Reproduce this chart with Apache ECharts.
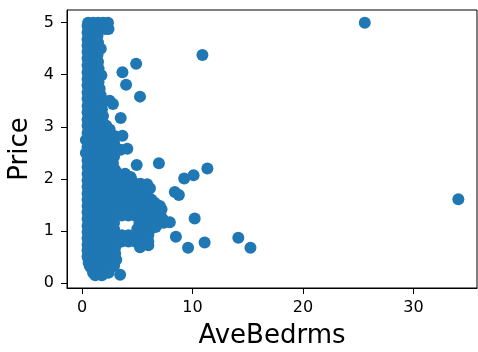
<!DOCTYPE html>
<html><head><meta charset="utf-8">
<script src="https://cdn.jsdelivr.net/npm/echarts@6/dist/echarts.min.js"></script>
<style>html,body{margin:0;padding:0;background:#fff}#c{width:478px;height:352px}</style>
</head><body><div id="c"></div>
<script>
// tick labels
const xTicks = [0, 10, 20, 30];
const yTicks = [0, 1, 2, 3, 4, 5];
const xName = 'AveBedrms';
const yName = 'Price';

// dense cloud, read row by row: [Price, [AveBedrms values]]
const denseRows = [
  [5.0,  [0.55, 1.0, 1.45, 1.9, 2.35]],
  [4.94, [0.5, 1.3, 2.0]],
  [4.88, [0.6, 1.1, 1.6, 2.1, 2.4]],
  [4.81, [0.5, 1.2]],
  [4.75, [0.6, 1.0, 1.4]],
  [4.68, [0.5, 1.2]],
  [4.62, [0.6, 1.0, 1.45]],
  [4.56, [0.5, 1.3]],
  [4.5,  [0.6, 1.1, 1.7]],
  [4.44, [0.5, 1.2]],
  [4.38, [0.6, 1.0, 1.4]],
  [4.31, [0.5, 1.2]],
  [4.25, [0.6, 1.0, 1.45]],
  [4.18, [0.5, 1.2]],
  [4.12, [0.6, 1.0, 1.5]],
  [4.05, [0.5, 1.3]],
  [3.99, [0.6, 1.1, 1.75]],
  [3.92, [0.5, 1.2]],
  [3.86, [0.6, 1.0, 1.5]],
  [3.8,  [0.5, 1.2]],
  [3.73, [0.6, 1.0, 1.6]],
  [3.66, [0.5, 1.3]],
  [3.6,  [0.6, 1.1, 1.7]],
  [3.54, [0.5, 1.4]],
  [3.5,  [2.5]],
  [3.47, [0.6, 1.1, 1.8]],
  [3.44, [2.8]],
  [3.4,  [0.5, 1.4]],
  [3.34, [0.6, 1.1, 1.8]],
  [3.28, [0.5, 1.4]],
  [3.21, [0.6, 1.1, 1.9]],
  [3.14, [0.5, 1.5]],
  [3.08, [0.6, 1.1, 1.9]],
  [3.02, [0.5, 1.5, 2.2]],
  [2.95, [0.6, 1.1, 1.9, 2.5]],
  [2.88, [0.5, 1.4, 2.1]],
  [2.82, [0.6, 1.1, 1.7, 2.4, 3.0]],
  [2.75, [0.35, 1.4, 2.0, 2.7]],
  [2.69, [0.6, 1.1, 1.7, 2.3, 2.9]],
  [2.62, [0.5, 1.4, 2.0, 2.7]],
  [2.56, [0.6, 1.2, 1.8, 2.4, 3.0, 3.5]],
  [2.5,  [0.35, 1.5, 2.1, 2.7]],
  [2.43, [0.6, 1.2, 1.8, 2.4, 2.9]],
  [2.36, [0.5, 1.5, 2.1]],
  [2.3,  [0.6, 1.2, 1.8, 2.4, 2.8]],
  [2.23, [0.5, 1.5, 2.1]],
  [2.17, [0.6, 1.2, 1.8, 2.4, 3.0]],
  [2.1,  [0.5, 1.5, 2.1, 2.7, 3.3, 3.9]],
  [2.04, [0.6, 1.2, 1.8, 2.4, 3.0, 3.6, 4.2, 4.4]],
  [1.97, [0.5, 1.5, 2.1, 2.7, 3.3, 3.9, 4.5]],
  [1.91, [0.6, 1.2, 1.8, 2.4, 3.0, 3.6, 4.2, 4.8, 5.3]],
  [1.85, [0.5, 1.5, 2.1, 2.7, 3.3, 3.9, 4.5, 5.1]],
  [1.78, [0.6, 1.2, 1.8, 2.4, 3.0, 3.6, 4.2, 4.8, 5.4]],
  [1.72, [0.5, 1.5, 2.1, 2.7, 3.3, 3.9, 4.5, 5.1, 5.7]],
  [1.66, [0.6, 1.2, 1.8, 2.4, 3.0, 3.6, 4.2, 4.8, 5.4, 6.0]],
  [1.6,  [0.5, 1.5, 2.1, 2.7, 3.3, 3.9, 4.5, 5.1, 5.7, 6.3]],
  [1.54, [0.6, 1.2, 1.8, 2.4, 3.0, 3.6, 4.2, 4.8, 5.4, 6.0, 6.6]],
  [1.48, [0.5, 1.5, 2.1, 2.7, 3.3, 3.9, 4.5, 5.1, 5.7, 6.3, 6.9]],
  [1.42, [0.6, 1.2, 1.8, 2.4, 3.0, 3.6, 4.2, 4.8, 5.4, 6.0, 6.6, 7.2]],
  [1.36, [0.5, 1.5, 2.1, 2.7, 3.3, 3.9, 4.5, 5.1, 5.7, 6.3, 6.9]],
  [1.3,  [0.6, 1.2, 1.8, 2.4, 3.0, 3.6, 4.2, 4.8, 5.4, 6.0, 6.6, 7.1]],
  [1.23, [0.5, 1.5, 2.1, 2.7, 5.5, 6.1, 6.7, 7.3]],
  [1.16, [0.6, 1.2, 1.8, 2.4, 2.9, 5.2, 5.8, 6.4, 7.0, 7.4]],
  [1.1,  [0.5, 1.5, 2.1, 2.7, 5.5, 6.1, 6.7]],
  [1.04, [0.6, 1.2, 1.8, 2.4, 2.9, 5.0, 5.6, 6.2]],
  [0.98, [0.5, 1.5, 2.1, 2.7, 5.3, 5.9]],
  [0.92, [0.6, 1.2, 1.8, 2.4, 3.0, 3.6, 4.2, 4.8, 5.4, 6.0]],
  [0.86, [0.5, 1.5, 2.1, 2.7, 3.3, 3.9, 4.5, 5.1, 5.7]],
  [0.8,  [0.6, 1.2, 1.8, 2.4, 3.0, 3.6, 4.2, 4.8, 5.4, 6.0]],
  [0.74, [0.5, 1.5, 2.1, 2.7]],
  [0.69, [0.6, 1.2, 1.8, 2.4, 3.0]],
  [0.63, [0.5, 1.5, 2.1, 2.7]],
  [0.57, [0.6, 1.2, 1.8, 2.4, 3.0]],
  [0.51, [0.5, 1.5, 2.1, 2.7]],
  [0.45, [0.6, 1.2, 1.8, 2.4, 3.1]],
  [0.39, [0.6, 1.5, 2.1, 2.7]],
  [0.33, [0.7, 1.2, 1.8, 2.4, 2.9]],
  [0.27, [0.9, 1.5, 2.1]],
  [0.2,  [1.0, 1.5, 2.0, 2.4]],
  [0.15, [1.2, 1.8]]
];

// scattered points: AveBedrms values and matching Price values
const outlierX = [25.6, 34.07, 10.9, 4.9, 3.66, 3.99, 5.25, 3.5, 3.66, 4.1, 4.95, 6.96, 11.35, 10.1, 9.25, 5.9, 6.15, 8.4, 8.77, 7.05, 10.2, 7.95, 8.5, 9.6, 11.1, 14.15, 15.25, 5.25, 6.0, 6.67, 3.45];
const outlierY = [5.0, 1.61, 4.38, 4.21, 4.05, 3.81, 3.58, 3.17, 2.83, 2.58, 2.27, 2.3, 2.2, 2.07, 2.01, 1.9, 1.82, 1.75, 1.69, 1.48, 1.24, 1.17, 0.89, 0.68, 0.78, 0.87, 0.68, 0.69, 0.73, 1.08, 0.16];

const points = [];
denseRows.forEach(r => r[1].forEach(x => points.push([x, r[0]])));
outlierX.forEach((x, i) => points.push([x, outlierY[i]]));

const font = 'DejaVu Sans';
const chart = echarts.init(document.getElementById('c'), null, {renderer: 'canvas'});
chart.setOption({
  animation: false,
  grid: {left: 67, right: 1, top: 10, bottom: 64, outerBoundsMode: 'none', containLabel: false,
         show: true, borderColor: '#000', borderWidth: 1, backgroundColor: 'transparent'},
  xAxis: {
    type: 'value', min: -1.36, max: 35.76,
    name: xName, nameLocation: 'middle', nameGap: 35,
    nameTextStyle: {fontFamily: font, fontSize: 26, color: '#000'},
    axisLine: {show: true, onZero: false, lineStyle: {color: '#000', width: 1}},
    axisTick: {show: true, length: 6, lineStyle: {color: '#000'}, customValues: xTicks},
    axisLabel: {fontFamily: font, fontSize: 16, color: '#000', margin: 12, customValues: xTicks},
    splitLine: {show: false}
  },
  yAxis: {
    type: 'value', min: -0.0925, max: 5.2425,
    name: yName, nameLocation: 'middle', nameGap: 32,
    nameTextStyle: {fontFamily: font, fontSize: 26, color: '#000'},
    axisLine: {show: true, onZero: false, lineStyle: {color: '#000', width: 1}},
    axisTick: {show: true, length: 6, lineStyle: {color: '#000'}, customValues: yTicks},
    axisLabel: {fontFamily: font, fontSize: 16, color: '#000', margin: 13, customValues: yTicks},
    splitLine: {show: false}
  },
  series: [{
    type: 'scatter', data: points, symbol: 'circle', symbolSize: 12, large: false,
    itemStyle: {color: '#1f77b4', opacity: 1, borderWidth: 0}
  }]
});
</script></body></html>
